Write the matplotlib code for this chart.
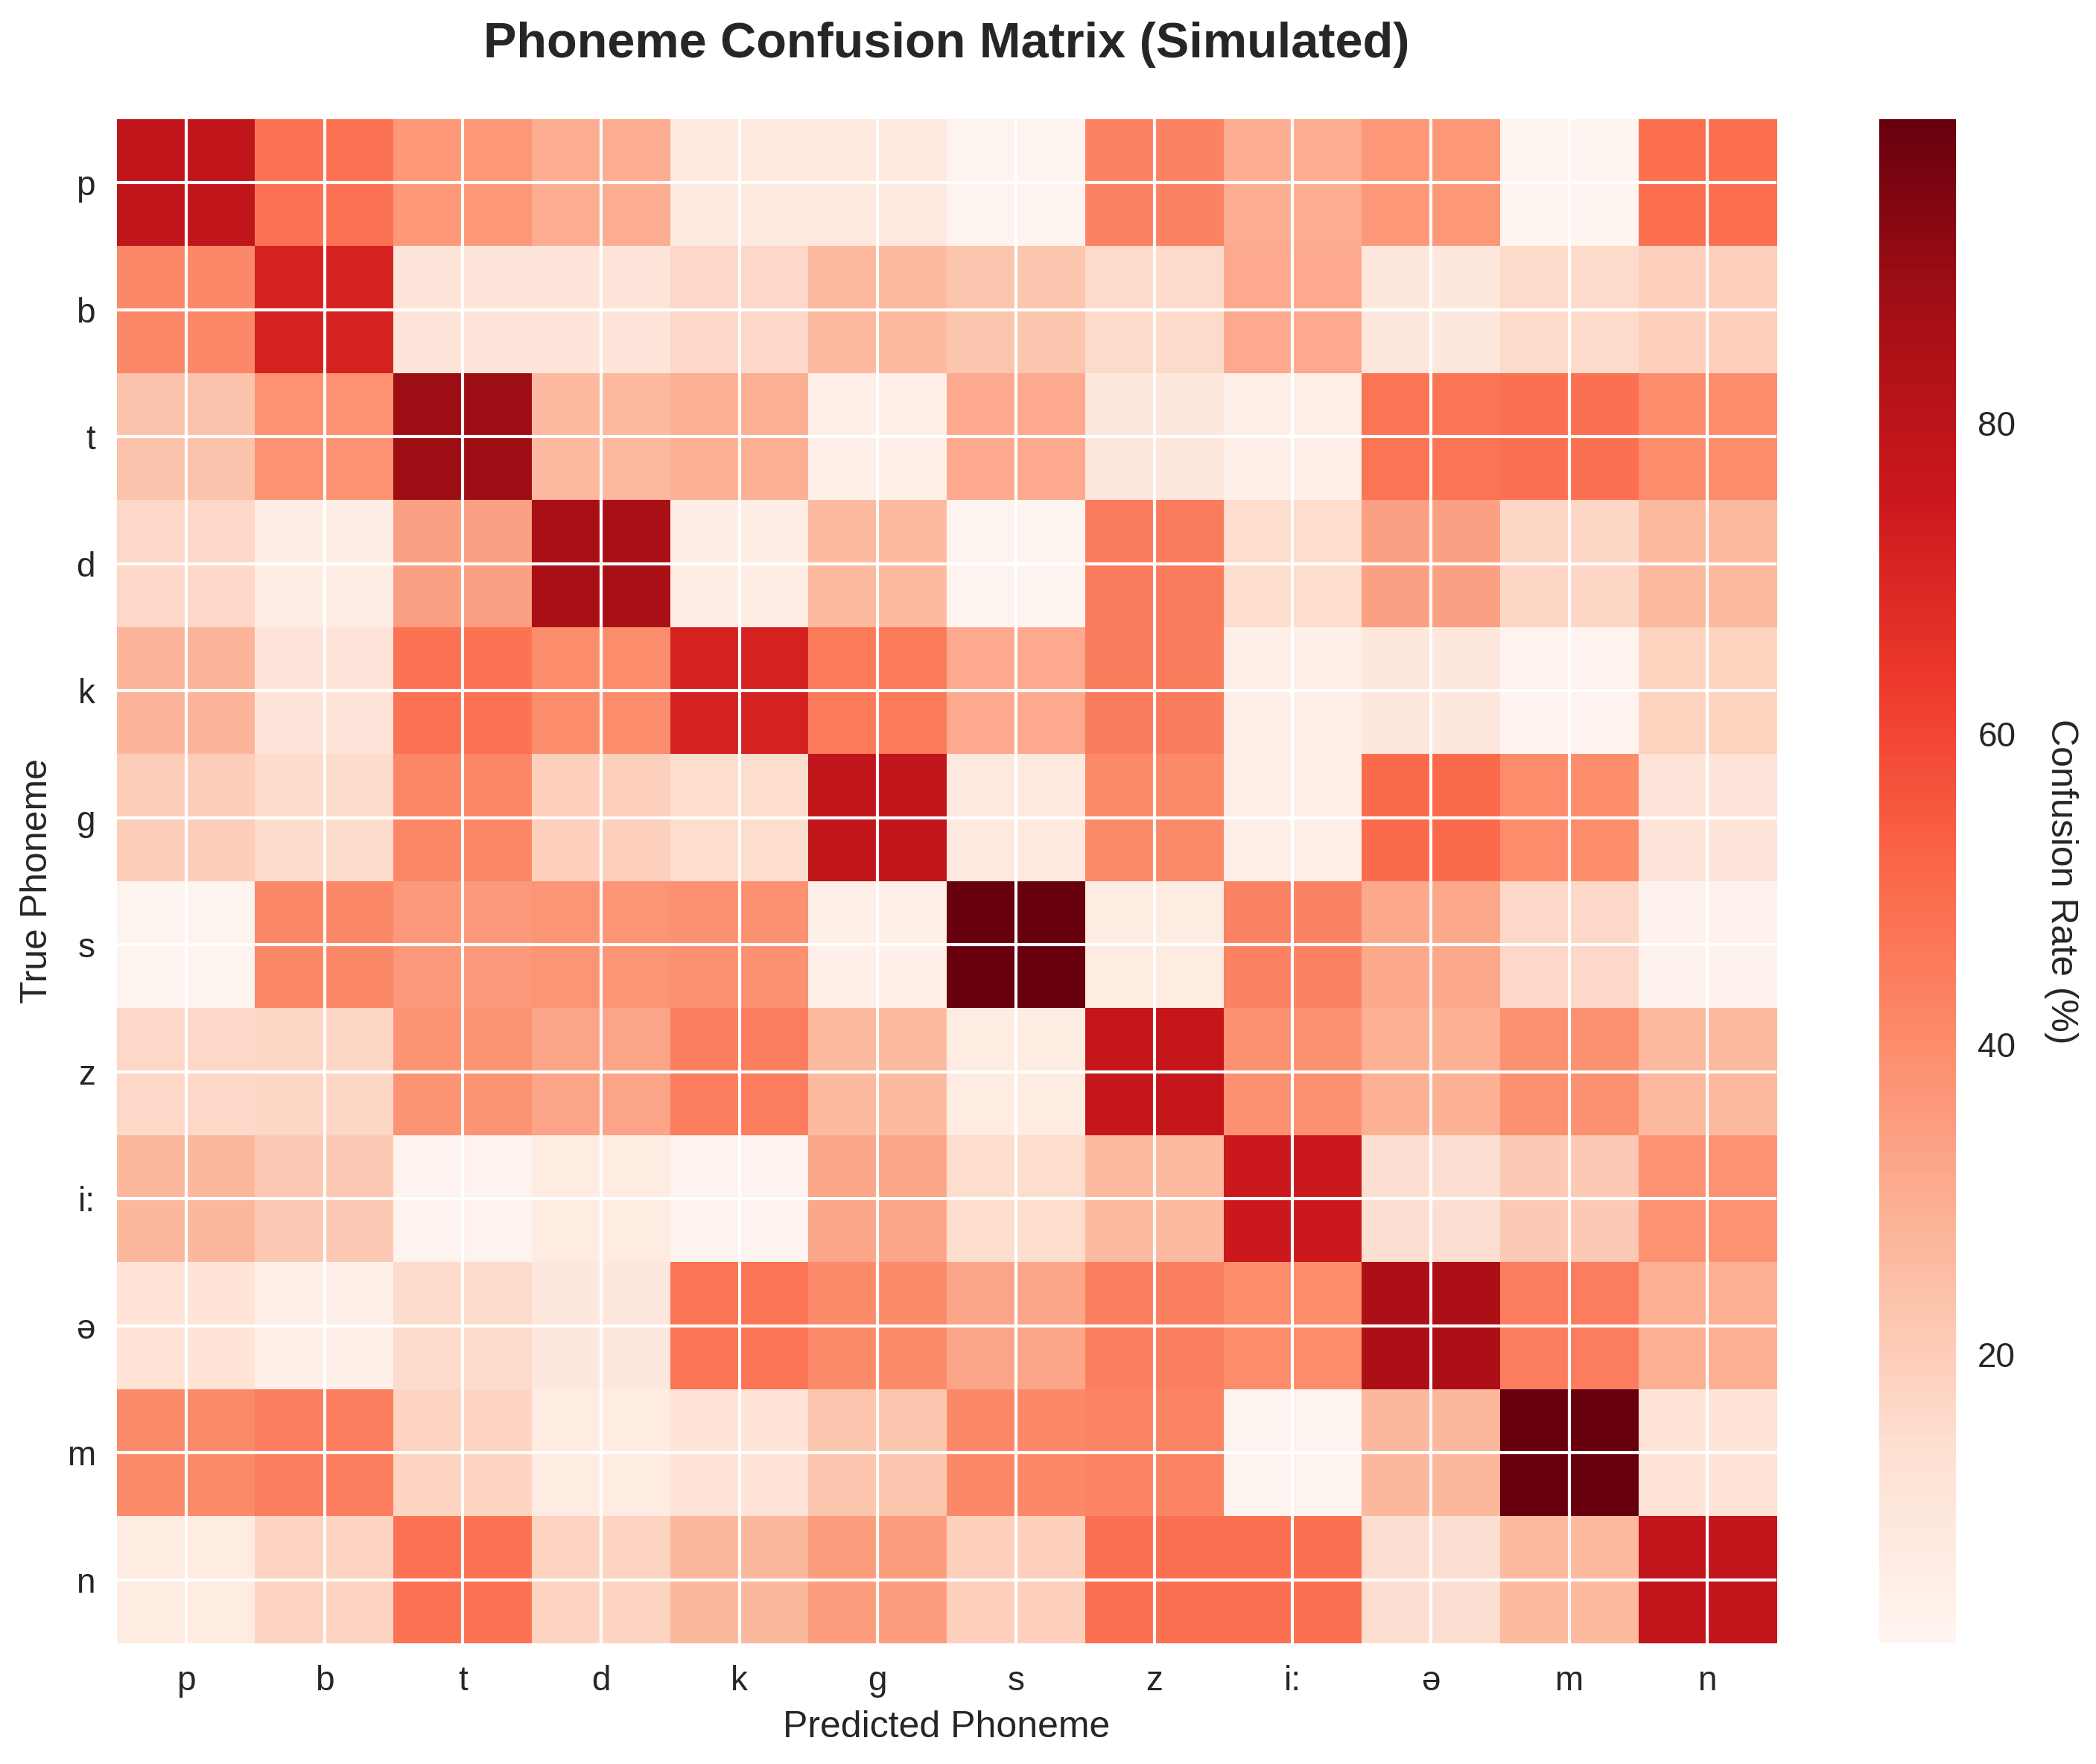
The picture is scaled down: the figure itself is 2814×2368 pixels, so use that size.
import matplotlib.pyplot as plt
import numpy as np

plt.style.use("seaborn-v0_8")

phonemes = ["p", "b", "t", "d", "k", "g", "s", "z", "i:", "ə", "m", "n"]

# confusion rates in %, one list per true phoneme (columns = predicted)
true_p = [78.5, 47.5, 36.5, 30.5, 8.5, 8.5, 1.9, 43.0, 30.5, 36.5, 1.4, 48.7]
true_b = [41.0, 71.3, 10.8, 10.5, 16.4, 26.6, 22.6, 15.8, 31.0, 9.0, 15.4, 19.0]
true_t = [23.0, 38.2, 88.5, 26.6, 29.6, 4.3, 31.0, 9.0, 4.3, 47.2, 48.5, 40.0]
true_d = [16.7, 6.1, 34.0, 85.6, 6.0, 26.0, 1.8, 45.0, 14.7, 34.0, 17.0, 26.6]
true_k = [27.8, 11.0, 47.5, 39.4, 71.5, 45.3, 31.0, 45.0, 4.3, 9.5, 2.5, 18.0]
true_g = [20.0, 15.0, 41.3, 19.0, 14.7, 78.5, 8.4, 40.6, 4.3, 50.0, 39.4, 11.0]
true_s = [1.9, 41.0, 36.2, 37.3, 38.5, 4.3, 99.6, 6.6, 43.0, 31.7, 16.7, 3.0]
true_z = [16.4, 17.0, 37.6, 32.6, 44.7, 26.3, 6.6, 77.3, 38.5, 29.3, 38.5, 26.6]
true_ii = [27.0, 21.6, 2.5, 6.5, 2.5, 32.3, 14.7, 26.3, 75.0, 13.7, 21.0, 38.2]
true_schwa = [12.0, 4.3, 15.0, 9.5, 47.0, 40.3, 32.3, 44.0, 40.0, 85.0, 44.7, 29.6]
true_m = [40.6, 44.7, 17.7, 6.6, 12.0, 22.6, 41.0, 42.4, 1.9, 27.0, 99.4, 12.0]
true_n = [6.6, 17.7, 47.5, 17.7, 27.0, 35.0, 19.0, 48.2, 48.2, 13.7, 26.3, 78.2]

matrix = np.array([true_p, true_b, true_t, true_d, true_k, true_g,
                   true_s, true_z, true_ii, true_schwa, true_m, true_n])

fig = plt.figure(figsize=(2814 / 300, 2368 / 300), dpi=300)
ax = fig.add_axes([157 / 2814, 162 / 2368, 2228 / 2814, 2046 / 2368])
cax = fig.add_axes([2523 / 2814, 162 / 2368, 103 / 2814, 2046 / 2368])

im = ax.imshow(matrix, cmap="Reds", aspect="auto")

ax.set_xticks(range(len(phonemes)))
ax.set_yticks(range(len(phonemes)))
ax.set_xticklabels(phonemes, fontsize=11)
ax.set_yticklabels(phonemes, fontsize=11)
ax.set_xlabel("Predicted Phoneme", fontsize=12)
ax.set_ylabel("True Phoneme", fontsize=12)
ax.set_title("Phoneme Confusion Matrix (Simulated)", fontsize=16,
             fontweight="bold", pad=20)

cbar = fig.colorbar(im, cax=cax)
cbar.set_label("Confusion Rate (%)", rotation=270, labelpad=20, fontsize=12)
cbar.ax.tick_params(labelsize=11)
cbar.outline.set_visible(False)

fig.savefig("out.png", dpi=300)
